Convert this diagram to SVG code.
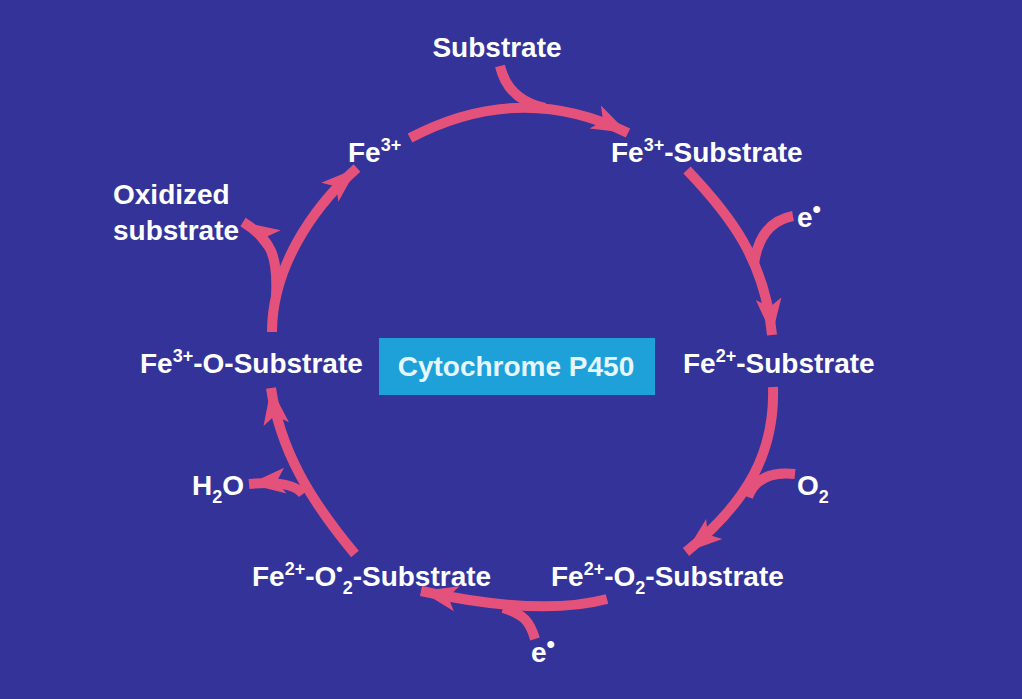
<svg xmlns="http://www.w3.org/2000/svg" width="1022" height="699" viewBox="0 0 1022 699">
<style>
text{font-family:"Liberation Sans",Arial,sans-serif;font-weight:bold;font-size:28px;fill:#ffffff}
.sup{font-size:18px}
.dot{font-size:24px}
.arc{fill:none;stroke:#e4527c;stroke-width:10;stroke-linecap:butt}
.box{fill:#1ea0d8}
.boxt{fill:#e6f7ff}
</style>
<defs>
<marker id="ah" markerUnits="userSpaceOnUse" markerWidth="42" markerHeight="30" viewBox="-36 -14 38 28" refX="0" refY="0" orient="auto">
<path d="M-34,-12 L0,0 L-34,12 L-26,0 z" fill="#e4527c"/>
</marker>
</defs>
<rect width="1022" height="699" fill="#333399"/>
<g id="connectors">
<path class="arc" d="M410,138 Q520,80 628,133" marker-end="url(#ah)"/>
<path class="arc" d="M500,66 Q508,100 545,108"/>
<path class="arc" d="M687,170 C730,215 765,260 772,335" marker-end="url(#ah)"/>
<path class="arc" d="M793,216 Q760,222 754,264"/>
<path class="arc" d="M773,387 C775,450 750,500 686,552" marker-end="url(#ah)"/>
<path class="arc" d="M795,474 Q758,470 748,497"/>
<path class="arc" d="M607,599 Q540,617 421,591" marker-end="url(#ah)"/>
<path class="arc" d="M535,639 C530,622 524,614 503,608"/>
<path class="arc" d="M355,554 C310,500 280,450 271,388" marker-end="url(#ah)"/>
<path class="arc" d="M303,494 Q292,480 249,484" marker-end="url(#ah)"/>
<path class="arc" d="M272,332 C272,270 310,210 357,168" marker-end="url(#ah)"/>
<path class="arc" d="M276,296 C278,257 272,240 243,222" marker-end="url(#ah)"/>
</g>
<g id="center">
<rect class="box" x="379" y="338" width="276" height="57"/>
<text class="boxt" x="516" y="376" text-anchor="middle">Cytochrome P450</text>
</g>
<g id="substrate-in"><text x="497" y="57" text-anchor="middle">Substrate</text></g>
<g id="fe3"><text x="348" y="162">Fe<tspan class="sup" dy="-11">3+</tspan></text></g>
<g id="fe3-sub"><text x="611" y="162">Fe<tspan class="sup" dy="-11">3+</tspan><tspan dy="11">-Substrate</tspan></text></g>
<g id="e1"><text x="797" y="227">e<tspan class="dot" dy="-10">•</tspan></text></g>
<g id="fe2-sub"><text x="683" y="373">Fe<tspan class="sup" dy="-11">2+</tspan><tspan dy="11">-Substrate</tspan></text></g>
<g id="o2"><text x="797" y="495">O<tspan class="sup" dy="8">2</tspan></text></g>
<g id="fe2-o2-sub"><text x="551" y="586">Fe<tspan class="sup" dy="-11">2+</tspan><tspan dy="11">-O</tspan><tspan class="sup" dy="8">2</tspan><tspan dy="-8">-Substrate</tspan></text></g>
<g id="e2"><text x="531" y="662">e<tspan class="dot" dy="-10">•</tspan></text></g>
<g id="fe2-o2rad-sub"><text x="252" y="586">Fe<tspan class="sup" dy="-11">2+</tspan><tspan dy="11">-O</tspan><tspan class="sup" dy="-11">•</tspan><tspan class="sup" dy="19">2</tspan><tspan dy="-8">-Substrate</tspan></text></g>
<g id="h2o"><text x="192" y="495">H<tspan class="sup" dy="8">2</tspan><tspan dy="-8">O</tspan></text></g>
<g id="fe3-o-sub"><text x="140" y="373">Fe<tspan class="sup" dy="-11">3+</tspan><tspan dy="11">-O-Substrate</tspan></text></g>
<g id="oxidized"><text x="113" y="204">Oxidized</text><text x="113" y="240">substrate</text></g>
</svg>
